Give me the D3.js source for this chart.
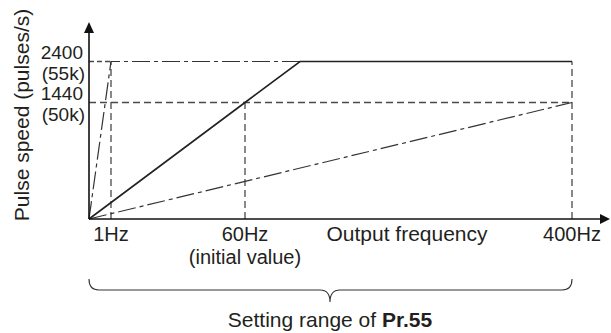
<!DOCTYPE html>
<html><head><meta charset="utf-8">
<script src="https://cdn.jsdelivr.net/npm/d3@7"></script>
<style>
html,body{margin:0;padding:0;background:#fff;}
svg{display:block;font-family:"Liberation Sans",Arial,sans-serif;}
</style></head>
<body>
<svg id="c" width="611" height="333"></svg>
<script>
// ---- data ----
const freqTicks = [1, 60, 400];
const freqLabels = ["1Hz", "60Hz", "400Hz"];
const freqSubLabels = ["", "(initial value)", ""];
const speedTicks = [2400, 1440];
const speedLabels = ["2400", "1440"];
const speedSubLabels = ["(55k)", "(50k)"];
// solid: initial value (60Hz -> 1440 pulses/s)
const solidSeries = [[0, 0], [60, 1440], [100, 2400], [400, 2400]];
// dash-dot: setting 1Hz
const steepSeries = [[0, 0], [1, 2400], [400, 2400]];
// dash-dot: setting 400Hz
const shallowSeries = [[0, 0], [400, 1440]];

const svg = d3.select("#c");
// schematic (non-uniform) scales
const x = d3.scaleLinear().domain([0, 1, 60, 100, 400]).range([89, 111, 245, 300, 572]);
const y = d3.scaleLinear().domain([0, 1440, 2400]).range([219, 102.5, 61.5]);
const line = d3.line().x(d => x(d[0])).y(d => y(d[1]));

const dashC = "#4a4a4a";
const g = svg.append("g");
g.append("line").attr("x1", x(0)).attr("x2", x(400)).attr("y1", y(1440)).attr("y2", y(1440))
  .attr("stroke", dashC).attr("stroke-width", 1.3).attr("stroke-dasharray", "7,4");
g.append("line").attr("x1", x(0)).attr("x2", x(1)).attr("y1", y(2400)).attr("y2", y(2400))
  .attr("stroke", dashC).attr("stroke-width", 1.3).attr("stroke-dasharray", "5,3");
const vTop = {1: 2400, 60: 1440, 400: 2400};
freqTicks.forEach(f => {
  g.append("line").attr("x1", x(f)).attr("x2", x(f)).attr("y1", y(0)).attr("y2", y(vTop[f]))
    .attr("stroke", dashC).attr("stroke-width", 1.3).attr("stroke-dasharray", "7,4");
});

[steepSeries, shallowSeries].forEach(s => {
  svg.append("path").attr("d", line(s)).attr("fill", "none")
    .attr("stroke", "#333").attr("stroke-width", 1.2).attr("stroke-dasharray", "18,4,4,4");
});
svg.append("path").attr("d", line(solidSeries)).attr("fill", "none")
  .attr("stroke", "#222").attr("stroke-width", 1.6);

// axes
svg.append("line").attr("x1", x(0)).attr("x2", 601).attr("y1", y(0)).attr("y2", y(0))
  .attr("stroke", "#111").attr("stroke-width", 1.6);
svg.append("path").attr("d", `M600,${y(0)-5}L610,${y(0)}L600,${y(0)+5}Z`).attr("fill", "#111");
svg.append("line").attr("x1", x(0)).attr("x2", x(0)).attr("y1", y(0)).attr("y2", 32)
  .attr("stroke", "#111").attr("stroke-width", 1.6);
svg.append("path").attr("d", `M${x(0)-5},33L${x(0)},22L${x(0)+5},33Z`).attr("fill", "#111");

const fs = 21;
const col = "#231f20";

// y tick labels (value on top, k-value below)
speedTicks.forEach((v, i) => {
  svg.append("text").attr("font-size", 19).attr("fill", col).attr("text-anchor", "end")
    .attr("x", 83).attr("y", y(v) - 3).text(speedLabels[i]);
  svg.append("text").attr("font-size", 19).attr("fill", col).attr("text-anchor", "end")
    .attr("x", 85).attr("y", y(v) + 18.5).text(speedSubLabels[i]);
});
// x tick labels
freqTicks.forEach((f, i) => {
  svg.append("text").attr("font-size", 20).attr("fill", col).attr("text-anchor", "middle")
    .attr("x", x(f)).attr("y", 241).text(freqLabels[i]);
  if (freqSubLabels[i]) svg.append("text").attr("font-size", 20).attr("fill", col)
    .attr("text-anchor", "middle").attr("x", x(f)).attr("y", 264).text(freqSubLabels[i]);
});
svg.append("text").attr("x", 407).attr("y", 241).attr("text-anchor", "middle")
  .attr("font-size", fs).attr("fill", col).text("Output frequency");

// y axis title
svg.append("text").attr("transform", "translate(29,115) rotate(-90)")
  .attr("text-anchor", "middle").attr("font-size", fs).attr("fill", col)
  .text("Pulse speed (pulses/s)");

// brace
const bx0 = x(0), bx1 = x(400), bm = 330, by = 290;
svg.append("path").attr("fill", "none").attr("stroke", "#333").attr("stroke-width", 1.1)
  .attr("d", `M${bx0},279 Q${bx0},${by} ${bx0 + 10},${by} L${bm - 10},${by} Q${bm},${by} ${bm},302 Q${bm},${by} ${bm + 10},${by} L${bx1 - 10},${by} Q${bx1},${by} ${bx1},279`);

// bottom caption
const cap = svg.append("text").attr("x", bm).attr("y", 327).attr("text-anchor", "middle")
  .attr("font-size", fs).attr("fill", col);
cap.append("tspan").text("Setting range of ");
cap.append("tspan").attr("font-weight", "bold").text("Pr.55");
</script>
</body></html>
